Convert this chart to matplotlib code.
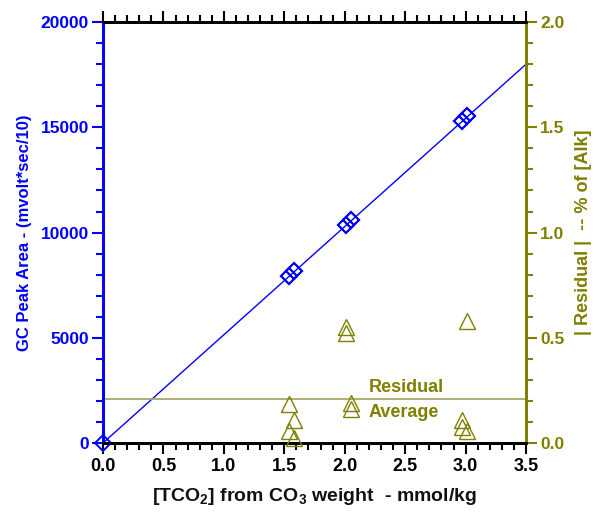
import matplotlib
matplotlib.use("Agg")
import matplotlib.pyplot as plt
from matplotlib.ticker import MultipleLocator, FormatStrFormatter

plt.rcParams['font.family'] = ['Liberation Sans', 'DejaVu Sans']
plt.rcParams['font.weight'] = 'bold'
plt.rcParams['mathtext.fontset'] = 'custom'
plt.rcParams['mathtext.rm'] = 'Liberation Sans:bold'
plt.rcParams['mathtext.bf'] = 'Liberation Sans:bold'
plt.rcParams['mathtext.it'] = 'Liberation Sans:bold'

BLUE = '#0000ff'
OLIVE = '#808000'
AVG_COLOR = '#a8a868'

# GC peak area (left axis)
conc = [0.0, 1.54, 1.54, 1.58, 1.58, 2.01, 2.01, 2.05, 2.05, 2.97, 2.97, 3.01, 3.01]
peak_area = [0, 7950, 7950, 8180, 8180, 10380, 10380, 10600, 10600, 15320, 15320, 15520, 15520]

# calibration line
fit_x = [0.0, 3.5]
fit_y = [0.0, 18000.0]

# |residual| % of [Alk] (right axis)
res_x = [1.54, 1.58, 1.54, 1.58, 2.01, 2.01, 2.05, 2.05, 3.01, 2.97, 2.97, 3.01]
res_y = [0.184, 0.109, 0.058, 0.022, 0.552, 0.521, 0.189, 0.163, 0.578, 0.109, 0.076, 0.057]
res_avg = 0.21

fig = plt.figure(figsize=(5.96, 5.12), dpi=100)
ax = fig.add_axes([0.1728, 0.1348, 0.7098, 0.822])
ax2 = ax.twinx()

ax.plot(fit_x, fit_y, color=BLUE, lw=1.0, zorder=2)
ax.plot(conc, peak_area, linestyle='none', marker='D', ms=8, mfc='none',
        mec=BLUE, mew=1.4, clip_on=False, zorder=5)

ax2.axhline(res_avg, color=AVG_COLOR, lw=1.3, zorder=1)
ax2.plot(res_x, res_y, linestyle='none', marker='^', ms=11, mfc='none',
         mec=OLIVE, mew=1.0, clip_on=False, zorder=4)
ax2.text(2.2, res_avg + 0.056, 'Residual', color=OLIVE, fontsize=13,
         fontweight='bold', va='center', ha='left')
ax2.text(2.2, res_avg - 0.067, 'Average', color=OLIVE, fontsize=13,
         fontweight='bold', va='center', ha='left')

ax.set_xlim(0, 3.5)
ax.set_ylim(0, 20000)
ax2.set_ylim(0, 2.0)

ax.xaxis.set_major_locator(MultipleLocator(0.5))
ax.xaxis.set_minor_locator(MultipleLocator(0.1))
ax.yaxis.set_major_locator(MultipleLocator(5000))
ax.yaxis.set_minor_locator(MultipleLocator(1000))
ax2.yaxis.set_major_locator(MultipleLocator(0.5))
ax2.yaxis.set_minor_locator(MultipleLocator(0.1))
ax.xaxis.set_major_formatter(FormatStrFormatter('%.1f'))
ax2.yaxis.set_major_formatter(FormatStrFormatter('%.1f'))

for a in (ax, ax2):
    for s in a.spines.values():
        s.set_linewidth(2)
ax.spines['left'].set_color(BLUE)
ax2.spines['left'].set_color(BLUE)
ax.spines['right'].set_color(OLIVE)
ax2.spines['right'].set_color(OLIVE)
ax.spines['top'].set_color('black')
ax.spines['bottom'].set_color('black')

ax.tick_params(axis='x', which='both', direction='out', top=True, bottom=True,
               labeltop=False, labelsize=13, color='black', width=1.5, pad=3)
ax.tick_params(axis='x', which='major', length=8)
ax.tick_params(axis='x', which='minor', length=5)
ax.tick_params(axis='y', which='both', direction='out', left=True, right=False,
               colors=BLUE, labelsize=12.5, width=1.5, pad=2)
ax.tick_params(axis='y', which='major', length=8)
ax.tick_params(axis='y', which='minor', length=5)
ax2.tick_params(axis='y', which='both', direction='out', right=True,
                colors=OLIVE, labelsize=12.5, width=1.5, pad=2)
ax2.tick_params(axis='y', which='major', length=8)
ax2.tick_params(axis='y', which='minor', length=5)

for lab in ax.get_xticklabels() + ax.get_yticklabels() + ax2.get_yticklabels():
    lab.set_fontweight('bold')

ax.set_xlabel(r'[TCO$_{2}$] from CO$_{3}$ weight  - mmol/kg', fontsize=14,
              fontweight='bold', color='#111111', labelpad=8)
ax.set_ylabel('GC Peak Area - (mvolt*sec/10)', fontsize=12, fontweight='bold',
              color=BLUE, labelpad=6)
ax2.set_ylabel('| Residual |  -- % of [Alk]', fontsize=13, fontweight='bold',
               color=OLIVE, labelpad=8)

fig.savefig('out.png', dpi=100)
